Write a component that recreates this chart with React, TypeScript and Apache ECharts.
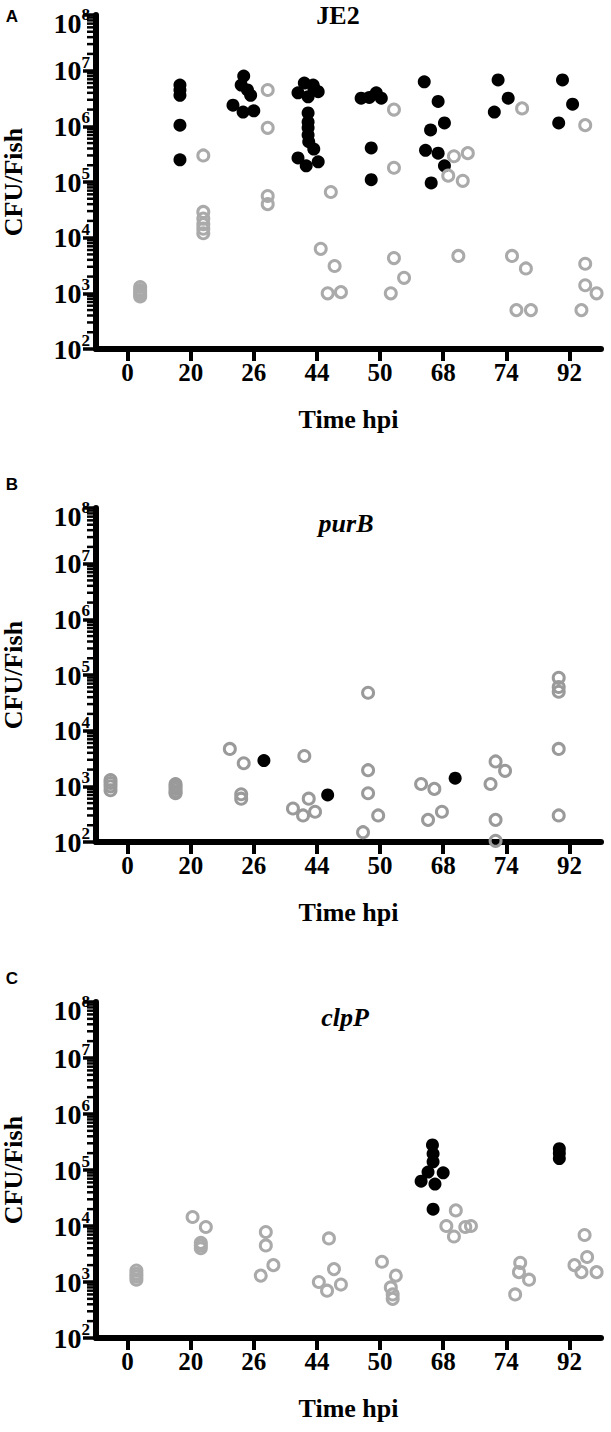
import React, { useEffect, useRef } from "react";
import * as echarts from "echarts";

// Time points (hours post infection), category axis labels
const hpiLabels = ["0", "20", "26", "44", "50", "68", "74", "92"];
const yMin = 100;
const yMax = 1e8;
// Minor ticks of the log axis: 2..9 × each decade
const minorMultipliers = [2, 3, 4, 5, 6, 7, 8, 9];
const decades = [1e2, 1e3, 1e4, 1e5, 1e6, 1e7];

// Each point: [category index, horizontal jitter (in category units), CFU per fish]
// Panel A – JE2
const je2Filled = [
  [1, -0.17, 5.5e6], [1, -0.17, 4.5e6], [1, -0.17, 3.6e6], [1, -0.17, 1.05e6], [1, -0.17, 2.5e5],
  [2, -0.16, 8.0e6], [2, -0.2, 5.5e6], [2, -0.1, 4.5e6], [2, -0.05, 3.6e6], [2, -0.33, 2.4e6], [2, -0.17, 1.8e6], [2, 0.0, 1.9e6],
  [3, -0.3, 4.0e6], [3, -0.2, 6.0e6], [3, -0.06, 5.5e6], [3, 0.02, 4.2e6], [3, -0.14, 3.4e6], [3, -0.05, 4.9e6],
  [3, -0.14, 1.74e6], [3, -0.14, 1.2e6], [3, -0.14, 9.4e5], [3, -0.14, 7.0e5], [3, -0.13, 5.3e5], [3, -0.05, 3.9e5],
  [3, -0.3, 2.7e5], [3, -0.17, 1.95e5], [3, 0.02, 2.3e5],
  [4, -0.3, 3.2e6], [4, -0.17, 3.3e6], [4, -0.06, 4.0e6], [4, 0.02, 3.2e6], [4, -0.14, 4.1e5], [4, -0.14, 1.1e5],
  [5, -0.3, 6.3e6], [5, -0.08, 2.8e6], [5, 0.02, 1.15e6], [5, -0.2, 8.6e5], [5, -0.28, 3.7e5], [5, -0.08, 3.3e5], [5, 0.02, 1.95e5], [5, -0.19, 9.6e4],
  [6, -0.13, 6.8e6], [6, 0.03, 3.2e6], [6, -0.19, 1.8e6],
  [7, -0.11, 6.8e6], [7, 0.05, 2.5e6], [7, -0.17, 1.15e6],
];
const je2Open = [
  [0, 0.2, 1300], [0, 0.2, 1150], [0, 0.2, 1050], [0, 0.2, 950], [0, 0.2, 880],
  [1, 0.2, 3.0e5], [1, 0.2, 2.9e4], [1, 0.2, 2.2e4], [1, 0.2, 1.75e4], [1, 0.2, 1.45e4], [1, 0.2, 1.2e4],
  [2, 0.22, 4.5e6], [2, 0.22, 9.4e5], [2, 0.22, 5.6e4], [2, 0.22, 4.0e4],
  [3, 0.22, 6.6e4], [3, 0.06, 6.3e3], [3, 0.28, 3.1e3], [3, 0.17, 1.0e3], [3, 0.38, 1.05e3],
  [4, 0.22, 2.0e6], [4, 0.22, 1.8e5], [4, 0.22, 4.3e3], [4, 0.38, 1.9e3], [4, 0.17, 1.0e3],
  [5, 0.17, 2.9e5], [5, 0.39, 3.3e5], [5, 0.08, 1.3e5], [5, 0.31, 1.05e5], [5, 0.24, 4.7e3],
  [6, 0.25, 2.1e6], [6, 0.09, 4.7e3], [6, 0.31, 2.8e3], [6, 0.16, 500], [6, 0.39, 500],
  [7, 0.25, 1.05e6], [7, 0.25, 3.4e3], [7, 0.25, 1.4e3], [7, 0.43, 1.0e3], [7, 0.19, 500],
];

// Panel B – purB
const purBFilled = [
  [2, 0.16, 2900], [3, 0.17, 700], [5, 0.19, 1400],
];
const purBOpen = [
  [0, -0.27, 1300], [0, -0.27, 1150], [0, -0.27, 1000], [0, -0.27, 850],
  [1, -0.24, 1100], [1, -0.24, 1000], [1, -0.24, 900], [1, -0.24, 800], [1, -0.24, 750],
  [2, -0.38, 4700], [2, -0.16, 2600], [2, -0.2, 720], [2, -0.2, 600],
  [3, -0.2, 3500], [3, -0.38, 400], [3, -0.22, 300], [3, -0.13, 600], [3, -0.03, 350],
  [4, -0.19, 4.8e4], [4, -0.19, 1950], [4, -0.19, 750], [4, -0.03, 300], [4, -0.27, 150],
  [5, -0.35, 1100], [5, -0.14, 900], [5, -0.24, 250], [5, -0.02, 350],
  [6, -0.17, 2800], [6, -0.02, 1900], [6, -0.25, 1100], [6, -0.17, 250], [6, -0.17, 105],
  [7, -0.17, 8.9e4], [7, -0.17, 6.1e4], [7, -0.17, 5.0e4], [7, -0.17, 4.7e3], [7, -0.17, 300],
];

// Panel C – clpP
const clpPFilled = [
  [5, -0.17, 2.8e5], [5, -0.16, 1.95e5], [5, -0.16, 1.4e5], [5, -0.24, 9.2e4], [5, 0.0, 8.9e4],
  [5, -0.35, 6.3e4], [5, -0.13, 5.6e4], [5, -0.16, 2.0e4],
  [7, -0.16, 2.4e5], [7, -0.16, 2.0e5], [7, -0.16, 1.6e5],
];
const clpPOpen = [
  [0, 0.14, 1600], [0, 0.14, 1400], [0, 0.14, 1250], [0, 0.14, 1100],
  [1, 0.03, 1.45e4], [1, 0.24, 9.6e3], [1, 0.16, 5000], [1, 0.16, 4500], [1, 0.16, 4000],
  [2, 0.19, 7.8e3], [2, 0.19, 4500], [2, 0.31, 2000], [2, 0.11, 1300],
  [3, 0.19, 6.0e3], [3, 0.27, 1700], [3, 0.03, 1000], [3, 0.38, 900], [3, 0.16, 700],
  [4, 0.03, 2300], [4, 0.25, 1300], [4, 0.17, 800], [4, 0.2, 600], [4, 0.2, 500],
  [5, 0.2, 1.9e4], [5, 0.05, 1.0e4], [5, 0.35, 9.6e3], [5, 0.44, 1.0e4], [5, 0.17, 6.5e3],
  [6, 0.22, 2200], [6, 0.2, 1500], [6, 0.36, 1100], [6, 0.14, 600],
  [7, 0.24, 6.9e3], [7, 0.28, 2800], [7, 0.08, 2000], [7, 0.43, 1500], [7, 0.19, 1500],
];

const panelTitles = ["JE2", "purB", "clpP"];
const panelLetters = ["A", "B", "C"];

const SERIF = "'Liberation Serif', 'Times New Roman', serif";

export default function App() {
  const ref = useRef<HTMLDivElement>(null);

  useEffect(() => {
    document.body.style.margin = "0";
    if (!ref.current) return;
    const chart = echarts.init(ref.current, null, { renderer: "svg" });

    const gridLeft = 96;
    const gridWidth = 505;
    const panels = [
      { top: 15, height: 334, filled: je2Filled, open: je2Open, openColor: "#aaaaaa", titleX: 338, titleY: 15, letterY: 16 },
      { top: 508, height: 334, filled: purBFilled, open: purBOpen, openColor: "#9a9a9a", titleX: 346, titleY: 523, letterY: 484 },
      { top: 1002, height: 336, filled: clpPFilled, open: clpPOpen, openColor: "#aaaaaa", titleX: 345, titleY: 1017, letterY: 978 },
    ];

    const minorTickData: number[][] = [];
    decades.forEach((d) => minorMultipliers.forEach((m) => minorTickData.push([-0.5, m * d])));

    const grid: any[] = [];
    const xAxis: any[] = [];
    const yAxis: any[] = [];
    const series: any[] = [];
    const graphic: any[] = [];

    panels.forEach((p, i) => {
      grid.push({
        left: gridLeft,
        top: p.top,
        width: gridWidth,
        height: p.height,
        containLabel: false,
        outerBoundsMode: "none",
      });
      xAxis.push({
        type: "category",
        gridIndex: i,
        data: hpiLabels,
        boundaryGap: true,
        name: "Time hpi",
        nameLocation: "middle",
        nameGap: 57,
        nameTextStyle: { fontFamily: SERIF, fontWeight: "bold", fontSize: 26, color: "#000" },
        axisLine: { show: true, onZero: false, lineStyle: { color: "#000", width: 6 } },
        axisTick: { show: true, alignWithLabel: true, length: 12, lineStyle: { color: "#000", width: 4 } },
        axisLabel: { margin: 11, fontFamily: SERIF, fontWeight: "bold", fontSize: 25, color: "#000" },
        splitLine: { show: false },
      });
      xAxis.push({ type: "value", gridIndex: i, min: -0.5, max: 7.5, show: false, splitLine: { show: false } });
      yAxis.push({
        type: "log",
        logBase: 10,
        gridIndex: i,
        min: yMin,
        max: yMax,
        splitNumber: 6,
        position: "left",
        name: "CFU/Fish",
        nameLocation: "middle",
        nameGap: 70,
        nameTextStyle: { fontFamily: SERIF, fontWeight: "bold", fontSize: 26, color: "#000" },
        axisLine: { show: true, onZero: false, lineStyle: { color: "#000", width: 6 } },
        axisTick: { show: true, length: 13, lineStyle: { color: "#000", width: 3.5 } },
        minorTick: { show: false },
        splitLine: { show: false },
        minorSplitLine: { show: false },
        axisLabel: {
          margin: 6,
          formatter: (v: number) => {
            const e = Math.round(Math.log10(v));
            // the top label sits just below its tick, as in the original figure
            return v >= yMax ? `{gap|}\n{b|10}{s|${e}}` : `{b|10}{s|${e}}`;
          },
          rich: {
            gap: { fontSize: 2, lineHeight: 16 },
            b: { fontFamily: SERIF, fontWeight: "bold", fontSize: 28, lineHeight: 34, color: "#000" },
            s: { fontFamily: SERIF, fontWeight: "bold", fontSize: 17, verticalAlign: "top", color: "#000" },
          },
        },
      });
      // minor ticks of the log axis, placed through the axis scales
      series.push({
        type: "scatter",
        xAxisIndex: 2 * i + 1,
        yAxisIndex: i,
        data: minorTickData,
        symbol: "rect",
        symbolSize: [8, 2.5],
        symbolOffset: [-5, 0],
        itemStyle: { color: "#000", opacity: 1 },
        clip: false,
        silent: true,
        z: 1,
      });
      series.push({
        type: "scatter",
        xAxisIndex: 2 * i + 1,
        yAxisIndex: i,
        data: p.filled.map(([c, j, v]) => [c + j, v]),
        symbol: "circle",
        symbolSize: 13,
        itemStyle: { color: "#000", opacity: 1 },
        clip: false,
        silent: true,
      });
      series.push({
        type: "scatter",
        xAxisIndex: 2 * i + 1,
        yAxisIndex: i,
        data: p.open.map(([c, j, v]) => [c + j, v]),
        symbol: "circle",
        symbolSize: 11,
        itemStyle: { color: "rgba(255,255,255,0)", borderColor: p.openColor, borderWidth: 3, opacity: 1 },
        clip: false,
        silent: true,
      });
      graphic.push({
        type: "text",
        x: p.titleX,
        y: p.titleY,
        style: {
          text: panelTitles[i],
          fontFamily: SERIF,
          fontWeight: "bold",
          fontStyle: i === 0 ? "normal" : "italic",
          fontSize: 26,
          fill: "#000",
          textAlign: "center",
          textVerticalAlign: "middle",
        },
      });
      graphic.push({
        type: "text",
        x: 12,
        y: p.letterY,
        style: {
          text: panelLetters[i],
          fontFamily: "'Liberation Sans', Arial, sans-serif",
          fontWeight: "bold",
          fontSize: 17,
          fill: "#000",
          textAlign: "center",
          textVerticalAlign: "middle",
        },
      });
    });

    chart.setOption({
      animation: false,
      backgroundColor: "#fff",
      grid,
      xAxis,
      yAxis,
      series,
      graphic,
    });

    return () => chart.dispose();
  }, []);

  return <div ref={ref} style={{ width: 611, height: 1432 }} />;
}
